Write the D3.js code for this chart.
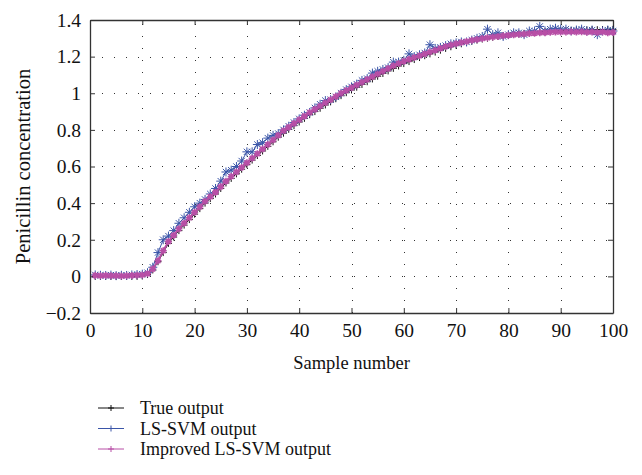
<html>
<head>
<script src="https://d3js.org/d3.v7.min.js"></script>
<style>
body { margin: 0; background: #fff; }
text { font-family: "Liberation Serif", "DejaVu Serif", serif; fill: #111; }
</style>
</head>
<body>
<svg width="642" height="475"></svg>
<script>
// sample index 1..100
var samples = d3.range(1, 101);

var trueOutput = [
  0, 0, 0, 0, 0, 0, 0, 0, 0, 0.002,
  0.01, 0.035, 0.08, 0.13, 0.18, 0.215, 0.25, 0.28, 0.31, 0.34,
  0.37, 0.4, 0.425, 0.45, 0.48, 0.51, 0.535, 0.56, 0.585, 0.61,
  0.635, 0.66, 0.685, 0.71, 0.735, 0.76, 0.782, 0.803, 0.823, 0.843,
  0.863, 0.883, 0.9, 0.918, 0.936, 0.953, 0.97, 0.987, 1.003, 1.018,
  1.033, 1.048, 1.063, 1.078, 1.093, 1.108, 1.122, 1.136, 1.149, 1.162,
  1.173, 1.184, 1.195, 1.205, 1.215, 1.225, 1.235, 1.245, 1.254, 1.262,
  1.27, 1.277, 1.284, 1.29, 1.296, 1.301, 1.306, 1.31, 1.314, 1.318,
  1.321, 1.324, 1.327, 1.33, 1.332, 1.334, 1.336, 1.338, 1.34, 1.341,
  1.342, 1.343, 1.344, 1.345, 1.346, 1.347, 1.347, 1.348, 1.348, 1.349
];

var lssvmOutput = [
  0.008, 0.006, 0.005, 0.007, 0.004, 0.006, 0.005, 0.008, 0.01, 0.012,
  0.02, 0.05, 0.13, 0.2, 0.22, 0.25, 0.29, 0.32, 0.35, 0.38,
  0.4, 0.42, 0.45, 0.48, 0.52, 0.57, 0.58, 0.6, 0.63, 0.68,
  0.68, 0.72, 0.73, 0.755, 0.77, 0.78, 0.8, 0.82, 0.84, 0.86,
  0.88, 0.895, 0.92, 0.94, 0.96, 0.965, 0.98, 1.0, 1.02, 1.035,
  1.05, 1.07, 1.08, 1.11, 1.12, 1.13, 1.14, 1.17, 1.17, 1.18,
  1.215, 1.2, 1.21, 1.22, 1.265, 1.245, 1.25, 1.26, 1.27, 1.275,
  1.28, 1.28, 1.29, 1.3, 1.31, 1.35, 1.32, 1.33, 1.31, 1.32,
  1.33, 1.33, 1.32, 1.34, 1.34, 1.365, 1.34, 1.35, 1.355, 1.35,
  1.35, 1.34, 1.345, 1.35, 1.34, 1.345, 1.32, 1.34, 1.345, 1.34
];

var improvedOutput = [
  0.005, 0.004, 0.005, 0.003, 0.004, 0.002, 0.004, 0.005, 0.006, 0.008,
  0.015, 0.04, 0.085, 0.14, 0.19, 0.225, 0.26, 0.29, 0.32, 0.35,
  0.38, 0.41, 0.435, 0.46, 0.49, 0.52, 0.545, 0.57, 0.595, 0.62,
  0.645, 0.67, 0.695, 0.72, 0.745, 0.77, 0.795, 0.815, 0.835, 0.855,
  0.875, 0.895, 0.912, 0.93, 0.948, 0.965, 0.982, 1.0, 1.015, 1.03,
  1.045, 1.06, 1.075, 1.09, 1.105, 1.12, 1.135, 1.15, 1.162, 1.175,
  1.185, 1.195, 1.205, 1.215, 1.225, 1.235, 1.245, 1.255, 1.263, 1.27,
  1.277, 1.283, 1.289, 1.294, 1.299, 1.303, 1.307, 1.31, 1.314, 1.317,
  1.319, 1.322, 1.324, 1.326, 1.328, 1.33, 1.331, 1.333, 1.334, 1.335,
  1.335, 1.336, 1.334, 1.336, 1.333, 1.335, 1.332, 1.334, 1.331, 1.332
];

var xTicks = [0, 10, 20, 30, 40, 50, 60, 70, 80, 90, 100];
var yTicks = [-0.2, 0, 0.2, 0.4, 0.6, 0.8, 1, 1.2, 1.4];
var seriesNames = ["True output", "LS-SVM output", "Improved LS-SVM output"];
var seriesColors = ["#111111", "#3a55a8", "#b84fa6"];

var pLeft = 90, pRight = 613, pTop = 20, pBottom = 313;
var svg = d3.select("svg");
var x = d3.scaleLinear().domain([0, 100]).range([pLeft, pRight]);
var y = d3.scaleLinear().domain([-0.2, 1.4]).range([pBottom, pTop]);

// dotted grid
var grid = svg.append("g").attr("stroke", "#333").attr("stroke-width", 1)
  .attr("stroke-dasharray", "1,11");
grid.selectAll("line.gx").data(xTicks.slice(1, -1)).enter().append("line")
  .attr("x1", d => Math.round(x(d)) + 0.5).attr("x2", d => Math.round(x(d)) + 0.5)
  .attr("y1", pBottom).attr("y2", pTop);
grid.selectAll("line.gy").data(yTicks.slice(1, -1)).enter().append("line")
  .attr("y1", d => Math.round(y(d)) + 0.5).attr("y2", d => Math.round(y(d)) + 0.5)
  .attr("x1", pLeft).attr("x2", pRight);

// axes with inward ticks
var fmt = d => d === 0 ? "0" : (d < 0 ? "\u2212" + Math.abs(d) : String(d));
var gx = svg.append("g").attr("transform", "translate(0," + pBottom + ")")
  .call(d3.axisBottom(x).tickValues(xTicks).tickSizeInner(-5).tickSizeOuter(0).tickPadding(8));
var gy = svg.append("g").attr("transform", "translate(" + pLeft + ",0)")
  .call(d3.axisLeft(y).tickValues(yTicks).tickFormat(fmt).tickSizeInner(-5).tickSizeOuter(0).tickPadding(9));
var gt = svg.append("g").attr("transform", "translate(0," + pTop + ")")
  .call(d3.axisTop(x).tickValues(xTicks).tickFormat("").tickSizeInner(-5).tickSizeOuter(0));
var gr = svg.append("g").attr("transform", "translate(" + pRight + ",0)")
  .call(d3.axisRight(y).tickValues(yTicks).tickFormat("").tickSizeInner(-5).tickSizeOuter(0));
[gx, gy, gt, gr].forEach(function(g) {
  g.selectAll("path").attr("stroke", "#333").attr("stroke-width", 1.3);
  g.selectAll("line").attr("stroke", "#333");
  g.selectAll("text").style("font-family", "Liberation Serif, serif").style("font-size", "19.5px").attr("fill", "#111");
});
gx.selectAll("text").attr("dy", "0.8em");

var line = d3.line().x((d, i) => x(samples[i])).y(d => y(d));

function markerPath(type, s) {
  var p = "M" + (-s) + ",0H" + s + "M0," + (-s) + "V" + s;
  if (type === "star") p += "M" + (-s * 0.7) + "," + (-s * 0.7) + "L" + (s * 0.7) + "," + (s * 0.7) +
    "M" + (-s * 0.7) + "," + (s * 0.7) + "L" + (s * 0.7) + "," + (-s * 0.7);
  return p;
}

var allSeries = [
  { values: trueOutput, color: seriesColors[0], lw: 1, mark: "plus", ms: 3.5, mw: 1 },
  { values: lssvmOutput, color: seriesColors[1], lw: 1, mark: "star", ms: 4.5, mw: 1 },
  { values: improvedOutput, color: seriesColors[2], lw: 2, mark: "star", ms: 3.5, mw: 1.6 }
];

allSeries.forEach(function(s) {
  svg.append("path").datum(s.values).attr("d", line)
    .attr("fill", "none").attr("stroke", s.color).attr("stroke-width", s.lw);
  svg.append("g").selectAll("path").data(s.values).enter().append("path")
    .attr("transform", (d, i) => "translate(" + x(samples[i]) + "," + y(d) + ")")
    .attr("d", markerPath(s.mark, s.ms))
    .attr("stroke", s.color).attr("stroke-width", s.mw).attr("fill", "none");
});

// axis titles
svg.append("text").attr("x", (pLeft + pRight) / 2).attr("y", 369)
  .attr("text-anchor", "middle").style("font-size", "18.5px").text("Sample number");
svg.append("text").attr("transform", "translate(30," + ((pTop + pBottom) / 2) + ") rotate(-90)")
  .attr("text-anchor", "middle").style("font-size", "20.5px").text("Penicillin concentration");

// legend
var legend = svg.append("g");
allSeries.forEach(function(s, i) {
  var ly = 408 + i * 20.5;
  legend.append("line").attr("x1", 98).attr("x2", 124).attr("y1", ly).attr("y2", ly)
    .attr("stroke", s.color).attr("stroke-width", 1);
  legend.append("path").attr("transform", "translate(111," + ly + ")")
    .attr("d", markerPath("plus", 3))
    .attr("stroke", s.color).attr("stroke-width", 1);
  legend.append("text").attr("x", 140).attr("y", ly + 6)
    .style("font-size", "18px").text(seriesNames[i]);
});
</script>
</body>
</html>
